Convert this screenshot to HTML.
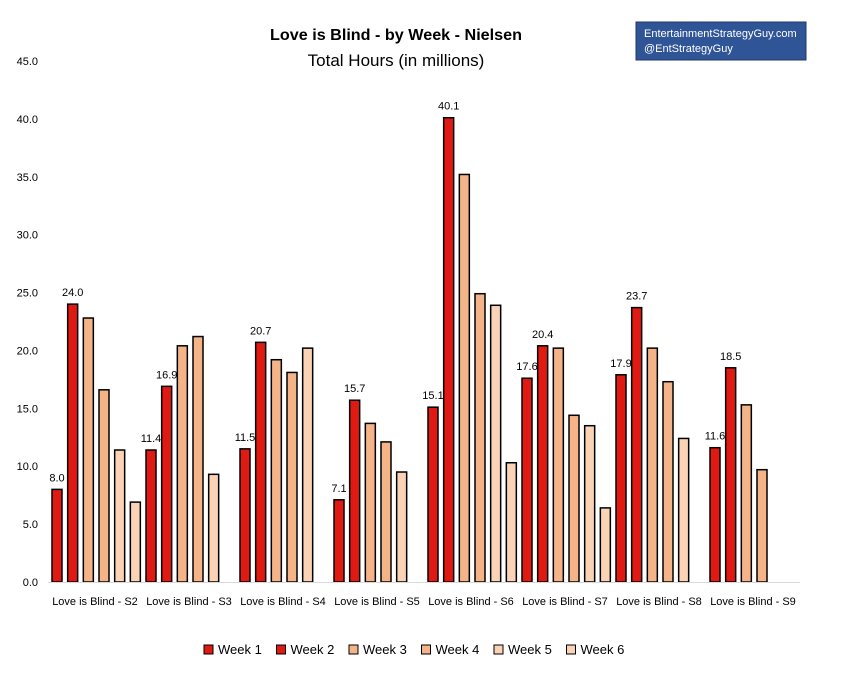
<!DOCTYPE html>
<html><head><meta charset="utf-8"><style>
body{margin:0;background:#fff;width:842px;height:684px;overflow:hidden;font-family:"Liberation Sans",sans-serif}
</style></head><body>
<svg id="chart" width="842" height="684" xmlns="http://www.w3.org/2000/svg" font-family="Liberation Sans, sans-serif">
<text x="396" y="40" text-anchor="middle" font-size="16" font-weight="bold" fill="#000" textLength="252" lengthAdjust="spacingAndGlyphs">Love is Blind - by Week - Nielsen</text>
<text x="396" y="66" text-anchor="middle" font-size="17" fill="#000">Total Hours (in millions)</text>
<g>
<rect x="636" y="22" width="170" height="38" fill="#2f5597" stroke="#1f3864"/>
<text x="644" y="37" font-size="11" fill="#fff">EntertainmentStrategyGuy.com</text>
<text x="644" y="52" font-size="11" fill="#fff">@EntStrategyGuy</text>
</g>
<g id="yaxis"></g>
<g id="bars"></g>
<g id="xaxis"></g>
<g id="legend"></g>
</svg>
<script>
const categories=["Love is Blind - S2","Love is Blind - S3","Love is Blind - S4","Love is Blind - S5","Love is Blind - S6","Love is Blind - S7","Love is Blind - S8","Love is Blind - S9"];
const week1=[8.0,11.4,11.5,7.1,15.1,17.6,17.9,11.6];
const week2=[24.0,16.9,20.7,15.7,40.1,20.4,23.7,18.5];
const week3=[22.8,20.4,19.2,13.7,35.2,20.2,20.2,15.3];
const week4=[16.6,21.2,18.1,12.1,24.9,14.4,17.3,9.7];
const week5=[11.4,9.3,20.2,9.5,23.9,13.5,12.4,null];
const week6=[6.9,null,null,null,10.3,6.4,null,null];
const seriesNames=["Week 1","Week 2","Week 3","Week 4","Week 5","Week 6"];
const yTicks=[0,5,10,15,20,25,30,35,40,45];
const series=[week1,week2,week3,week4,week5,week6];
const colors=["#e01a12","#e01a12","#f4b487","#f4b487","#fad2b6","#fad2b6"];
const NS="http://www.w3.org/2000/svg";
const x0=48,x1=800,y0=582,yTop=61,yMax=45;
const gw=(x1-x0)/categories.length, slot=gw/6;
const y=v=>y0-(v/yMax)*(y0-yTop);
const bx=(c,s)=>x0+c*gw+s*slot+4;
function mk(tag,attrs,parent){const e=document.createElementNS(NS,tag);for(const k in attrs)e.setAttribute(k,attrs[k]);parent.appendChild(e);return e;}
const ya=document.getElementById('yaxis');
yTicks.forEach(t=>{const tx=mk('text',{x:38,y:y(t)+4,'text-anchor':'end','font-size':11,fill:'#000'},ya);


tx.textContent=t.toFixed(1);});
const bg=document.getElementById('bars');
series.forEach((arr,s)=>arr.forEach((v,c)=>{if(v==null)return;
const r=mk('rect',{x:bx(c,s),y:y(v),width:10,height:y0-y(v),fill:colors[s],stroke:'#000','stroke-width':1.5},bg);


if(s<2){const t=mk('text',{x:bx(c,s)+5,y:y(v)-8,'text-anchor':'middle','font-size':11,fill:'#000'},bg);


t.textContent=v.toFixed(1);}
}));
const xa=document.getElementById('xaxis');
const ln=mk('line',{x1:x0,x2:x1,y1:y0+0.5,y2:y0+0.5,stroke:'#d9d9d9'},xa);


categories.forEach((c,i)=>{const t=mk('text',{x:x0+i*gw+gw/2,y:605,'text-anchor':'middle','font-size':11,fill:'#000'},xa);


t.textContent=c;});
const lg=document.getElementById('legend');
seriesNames.forEach((n,i)=>{const lx=204+i*72.5;
const r=mk('rect',{x:lx,y:645,width:9,height:9,fill:colors[i],stroke:'#000','stroke-width':1},lg);


const t=mk('text',{x:lx+14,y:654,'font-size':13,fill:'#000'},lg);


t.textContent=n;});
</script>
</body></html>
